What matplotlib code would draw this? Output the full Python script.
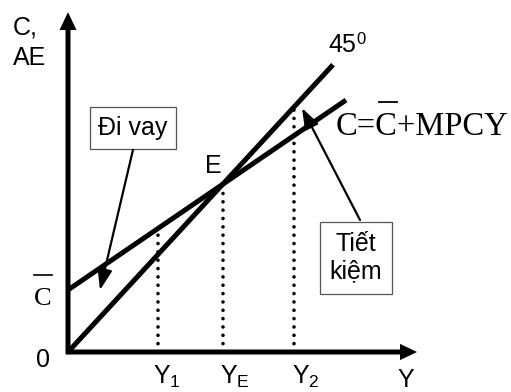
import numpy as np
import matplotlib
matplotlib.use('Agg')
import matplotlib.pyplot as plt

plt.rcParams['font.family'] = ['Liberation Sans', 'DejaVu Sans']
plt.rcParams['mathtext.fontset'] = 'custom'
plt.rcParams['mathtext.rm'] = 'Liberation Sans'
plt.rcParams['mathtext.it'] = 'Liberation Sans'
plt.rcParams['mathtext.default'] = 'regular'

# model values
c_bar = 1.145          # autonomous consumption
mpc = 0.63             # slope of C line
y_1 = 1.8
y_2 = 4.52
y_e = c_bar / (1 - mpc)
line45_end = 5.3
cline_end = 5.56
x_axis_end = 6.98
y_axis_end = 6.27

tick_labels = ['Y$_1$', 'Y$_\\mathrm{E}$', 'Y$_2$']

fig = plt.figure(figsize=(5.11, 3.92), dpi=100)
ax = fig.add_axes([0, 0, 1, 1])
ax.set_xlim(-1.36, 8.86)
ax.set_ylim(-0.738, 6.494)
ax.axis('off')

# axes with arrows
ax.arrow(0, -0.04, 0, y_axis_end + 0.04, width=0.1, head_width=0.34, head_length=0.33,
         length_includes_head=True, fc='black', ec='none')
ax.arrow(-0.04, 0, x_axis_end + 0.04, 0, width=0.092, head_width=0.30, head_length=0.34,
         length_includes_head=True, fc='black', ec='none')

# 45 degree line and consumption line
x45 = np.array([0, line45_end])
ax.plot(x45, x45, color='black', lw=3.6, solid_capstyle='butt')
xc = np.array([0, cline_end])
ax.plot(xc, c_bar + mpc * xc, color='black', lw=3.6, solid_capstyle='butt')

# dotted drop lines
tops = [c_bar + mpc * y_1, y_e, y_2]
for xv, top in zip([y_1, y_e, y_2], tops):
    ax.plot([xv, xv], [0, top - 0.06], color='black', lw=2.6,
            linestyle=(0, (0.01, 2.3)), dash_capstyle='round')

# tick labels under the axis
for xv, lab in zip([y_1 - 0.1, y_e - 0.06, y_2 - 0.04], tick_labels):
    ax.text(xv, -0.58, lab, fontsize=18, ha='left', va='baseline')
ax.text(6.58, -0.64, 'Y', fontsize=18, ha='left', va='baseline')
ax.text(-0.5, -0.28, '0', fontsize=18, ha='center', va='baseline')

# axis title
ax.text(-1.1, 5.85, 'C,', fontsize=18, ha='left', va='baseline')
ax.text(-1.1, 5.295, 'AE', fontsize=18, ha='left', va='baseline')

# C bar on vertical axis
ax.text(-0.5, 0.867, 'C', fontsize=19, family='Liberation Serif', ha='center', va='baseline')
ax.plot([-0.68, -0.32], [1.42, 1.42], color='black', lw=1.2)

# labels
ax.text(2.9, 3.30, 'E', fontsize=18, ha='center', va='baseline')
ax.text(5.2, 5.535, '45', fontsize=18, ha='left', va='baseline')
ax.text(5.76, 5.68, '0', fontsize=12, ha='left', va='baseline')

# equation
eq_x, eq_y = 5.36, 4.0
eq = ax.text(eq_x, eq_y, 'C=C+MPCY', fontsize=23.5, family='Liberation Serif',
             ha='left', va='baseline')
fig.canvas.draw()
r = fig.canvas.get_renderer()
t1 = ax.text(eq_x, eq_y, 'C=', fontsize=23.5, family='Liberation Serif', ha='left', va='baseline')
t2 = ax.text(eq_x, eq_y, 'C=C', fontsize=23.5, family='Liberation Serif', ha='left', va='baseline')
b1 = t1.get_window_extent(r)
b2 = t2.get_window_extent(r)
t1.remove()
t2.remove()
inv = ax.transData.inverted()
xa = inv.transform((b1.x1, 0))[0]
xb = inv.transform((b2.x1, 0))[0]
ax.plot([xa + 0.06, xb - 0.02], [4.61, 4.61], color='black', lw=1.3)

# boxes with pointers
box = dict(boxstyle='square,pad=0.35', fc='white', ec='#555555', lw=0.9)
ax.text(1.3, 4.13, 'Đi vay', fontsize=18, ha='center', va='center', bbox=box)
ax.annotate('', xy=(0.64, 1.144), xytext=(1.3, 3.73),
            arrowprops=dict(arrowstyle='-|>,head_length=0.7,head_width=0.25', lw=1.6,
                            color='black', mutation_scale=18, shrinkA=0, shrinkB=0))
ax.text(5.76, 1.74, 'Tiết\nkiệm', fontsize=18, ha='center', va='center',
        multialignment='center', bbox=dict(boxstyle='square,pad=0.4', fc='white',
                                           ec='#555555', lw=0.9))
ax.annotate('', xy=(4.68, 4.50), xytext=(5.84, 2.435),
            arrowprops=dict(arrowstyle='-|>,head_length=0.7,head_width=0.25', lw=1.6,
                            color='black', mutation_scale=18, shrinkA=0, shrinkB=0))

fig.savefig('out.png', dpi=100)
